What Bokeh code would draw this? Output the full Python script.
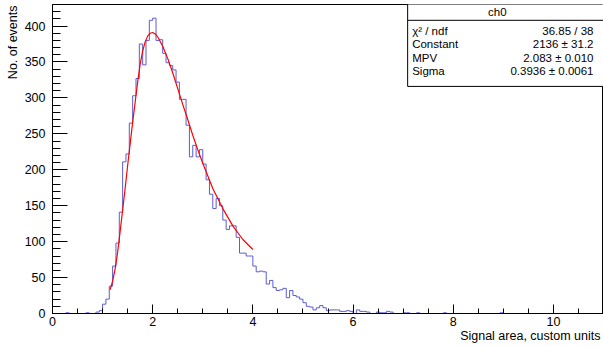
from bokeh.plotting import figure
from bokeh.models import Range1d, SingleIntervalTicker, Title
from bokeh.core.properties import value
from bokeh.embed import file_html
from bokeh.resources import INLINE

# ---------------- data ----------------
bin_low = 0.0
bin_width = 1.0 / 15.0
counts = [
    0, 0, 0, 0, 1, 0, 0, 0, 0, 0,            # 0.00 - 0.67
    1, 0, 0, 2, 4, 13, 20, 38, 66, 98,       # 0.67 - 1.33
    141, 211, 222, 265, 303, 327, 375, 346, 380, 408,  # 1.33 - 2.00
    411, 380, 381, 362, 349, 345, 339, 322, 298, 298,  # 2.00 - 2.67
    262, 218, 234, 218, 228, 208, 186, 166, 146, 160,  # 2.67 - 3.33
    150, 130, 117, 122, 122, 106, 84, 84, 80, 80,      # 3.33 - 4.00
    66, 58, 59, 58, 41, 46, 36, 32, 33, 35,            # 4.00 - 4.67
    22, 32, 25, 23, 20, 15, 10, 9, 5, 8,               # 4.67 - 5.33
    11, 8, 4, 5, 5, 5, 3, 3, 4, 3,                     # 5.33 - 6.00
    0, 5, 3, 3, 2, 0, 0, 2, 1, 1,                      # 6.00 - 6.67
    3, 2, 0, 0, 0, 1, 1, 0, 0, 1,                      # 6.67 - 7.33
    0, 0, 0, 0, 0, 0, 0, 1, 0, 0,                      # 7.33 - 8.00
    0, 0, 0, 0, 0, 0, 0, 0, 0, 0,                      # 8.00 - 8.67
    0, 0, 0, 0, 1, 0, 0, 0, 0, 0,                      # 8.67 - 9.33
    0, 0, 0, 0, 0, 0, 0, 0, 0, 0,                      # 9.33 - 10.00
    0, 0, 0, 0, 0, 0, 0, 0, 0, 0,                      # 10.00 - 10.67
    0, 0, 0, 0, 0,                                     # 10.67 - 11.00
]

# Landau fit curve
fit_x = [1.15, 1.20, 1.25, 1.30, 1.35, 1.40, 1.45, 1.50, 1.55, 1.60,
         1.65, 1.70, 1.75, 1.80, 1.85, 1.90, 1.95, 2.00, 2.05, 2.10,
         2.20, 2.30, 2.40, 2.50, 2.60, 2.70, 2.80, 2.90, 3.00, 3.20,
         3.40, 3.60, 3.80, 4.00]
fit_y = [33, 45, 62, 85, 114, 144, 174, 206, 236, 266,
         294, 322, 347, 365, 378, 386, 390, 391, 389, 385,
         372, 355, 335, 313, 291, 270, 248, 228, 209, 174,
         146, 122, 103, 89]

stat_title = "ch0"
stat_names = ["\u03c7\u00b2 / ndf", "Constant", "MPV", "Sigma"]
stat_values = ["36.85 / 38", "2136 \u00b1 31.2", "2.083 \u00b1 0.010", "0.3936 \u00b1 0.0061"]

x_title = "Signal area, custom units"
y_title = "No. of events"

# ---------------- figure ----------------
FONT = "Liberation Sans"
XMAX = 11.0
YMAX = 430

p = figure(width=603, height=347, output_backend="svg", toolbar_location=None,
           x_range=Range1d(0, XMAX), y_range=Range1d(0, YMAX),
           min_border_left=52, min_border_right=0, min_border_top=4,
           min_border_bottom=34)
p.background_fill_color = "white"
p.border_fill_color = "white"
p.outline_line_color = "black"
p.outline_line_width = 1
p.xgrid.visible = False
p.ygrid.visible = False

p.xaxis.ticker = SingleIntervalTicker(interval=2, num_minor_ticks=4)
p.yaxis.ticker = SingleIntervalTicker(interval=50, num_minor_ticks=5)
for ax in (p.xaxis, p.yaxis):
    ax.major_tick_out = 0
    ax.minor_tick_out = 0
    ax.axis_line_color = "black"
    ax.major_tick_line_color = "black"
    ax.minor_tick_line_color = "black"
    ax.major_label_text_font = FONT
    ax.major_label_text_font_size = "12.5px"
    ax.major_label_text_color = "black"
p.xaxis.major_tick_in = 9
p.xaxis.minor_tick_in = 5
p.yaxis.major_tick_in = 15
p.yaxis.minor_tick_in = 8
p.xaxis.major_label_standoff = 3
p.yaxis.major_label_standoff = 7

# axis titles, ROOT style (aligned to the axis end)
p.add_layout(Title(text=x_title, align="right", offset=3, standoff=-3,
                   text_font=FONT, text_font_size="12.5px",
                   text_font_style="normal", text_color="black"), "below")
p.add_layout(Title(text=y_title, align="right", offset=1, standoff=4,
                   text_font=FONT, text_font_size="12.5px",
                   text_font_style="normal", text_color="black"), "left")

# histogram outline (steps)
edges = [bin_low + i * bin_width for i in range(len(counts) + 1)]
step_y = list(counts) + [counts[-1]]
p.step(x=edges, y=step_y, mode="after", line_color="#5c5cd4", line_width=1)

# fit curve
p.line(x=fit_x, y=fit_y, line_color="#ff0000", line_width=1.2)

# stats box
bx0 = 7.09
p.quad(left=[bx0], right=[XMAX + 1], bottom=[316], top=[YMAX + 5],
       fill_color="white", line_color="black", line_width=1)
p.segment(x0=[bx0], x1=[XMAX + 1], y0=[408], y1=[408], line_color="black", line_width=1)
p.text(x=[8.88], y=[419], text=[stat_title], text_font=value(FONT),
       text_font_size="11.5px", text_align="center", text_baseline="middle", text_color="black")
row_y = [393, 375, 356, 338]
p.text(x=[7.18] * 4, y=row_y, text=stat_names, text_font=value(FONT),
       text_font_size="11.5px", text_align="left", text_baseline="middle", text_color="black")
p.text(x=[10.80] * 4, y=row_y, text=stat_values, text_font=value(FONT),
       text_font_size="11.5px", text_align="right", text_baseline="middle", text_color="black")

open("out.html", "w").write(file_html(p, INLINE))
